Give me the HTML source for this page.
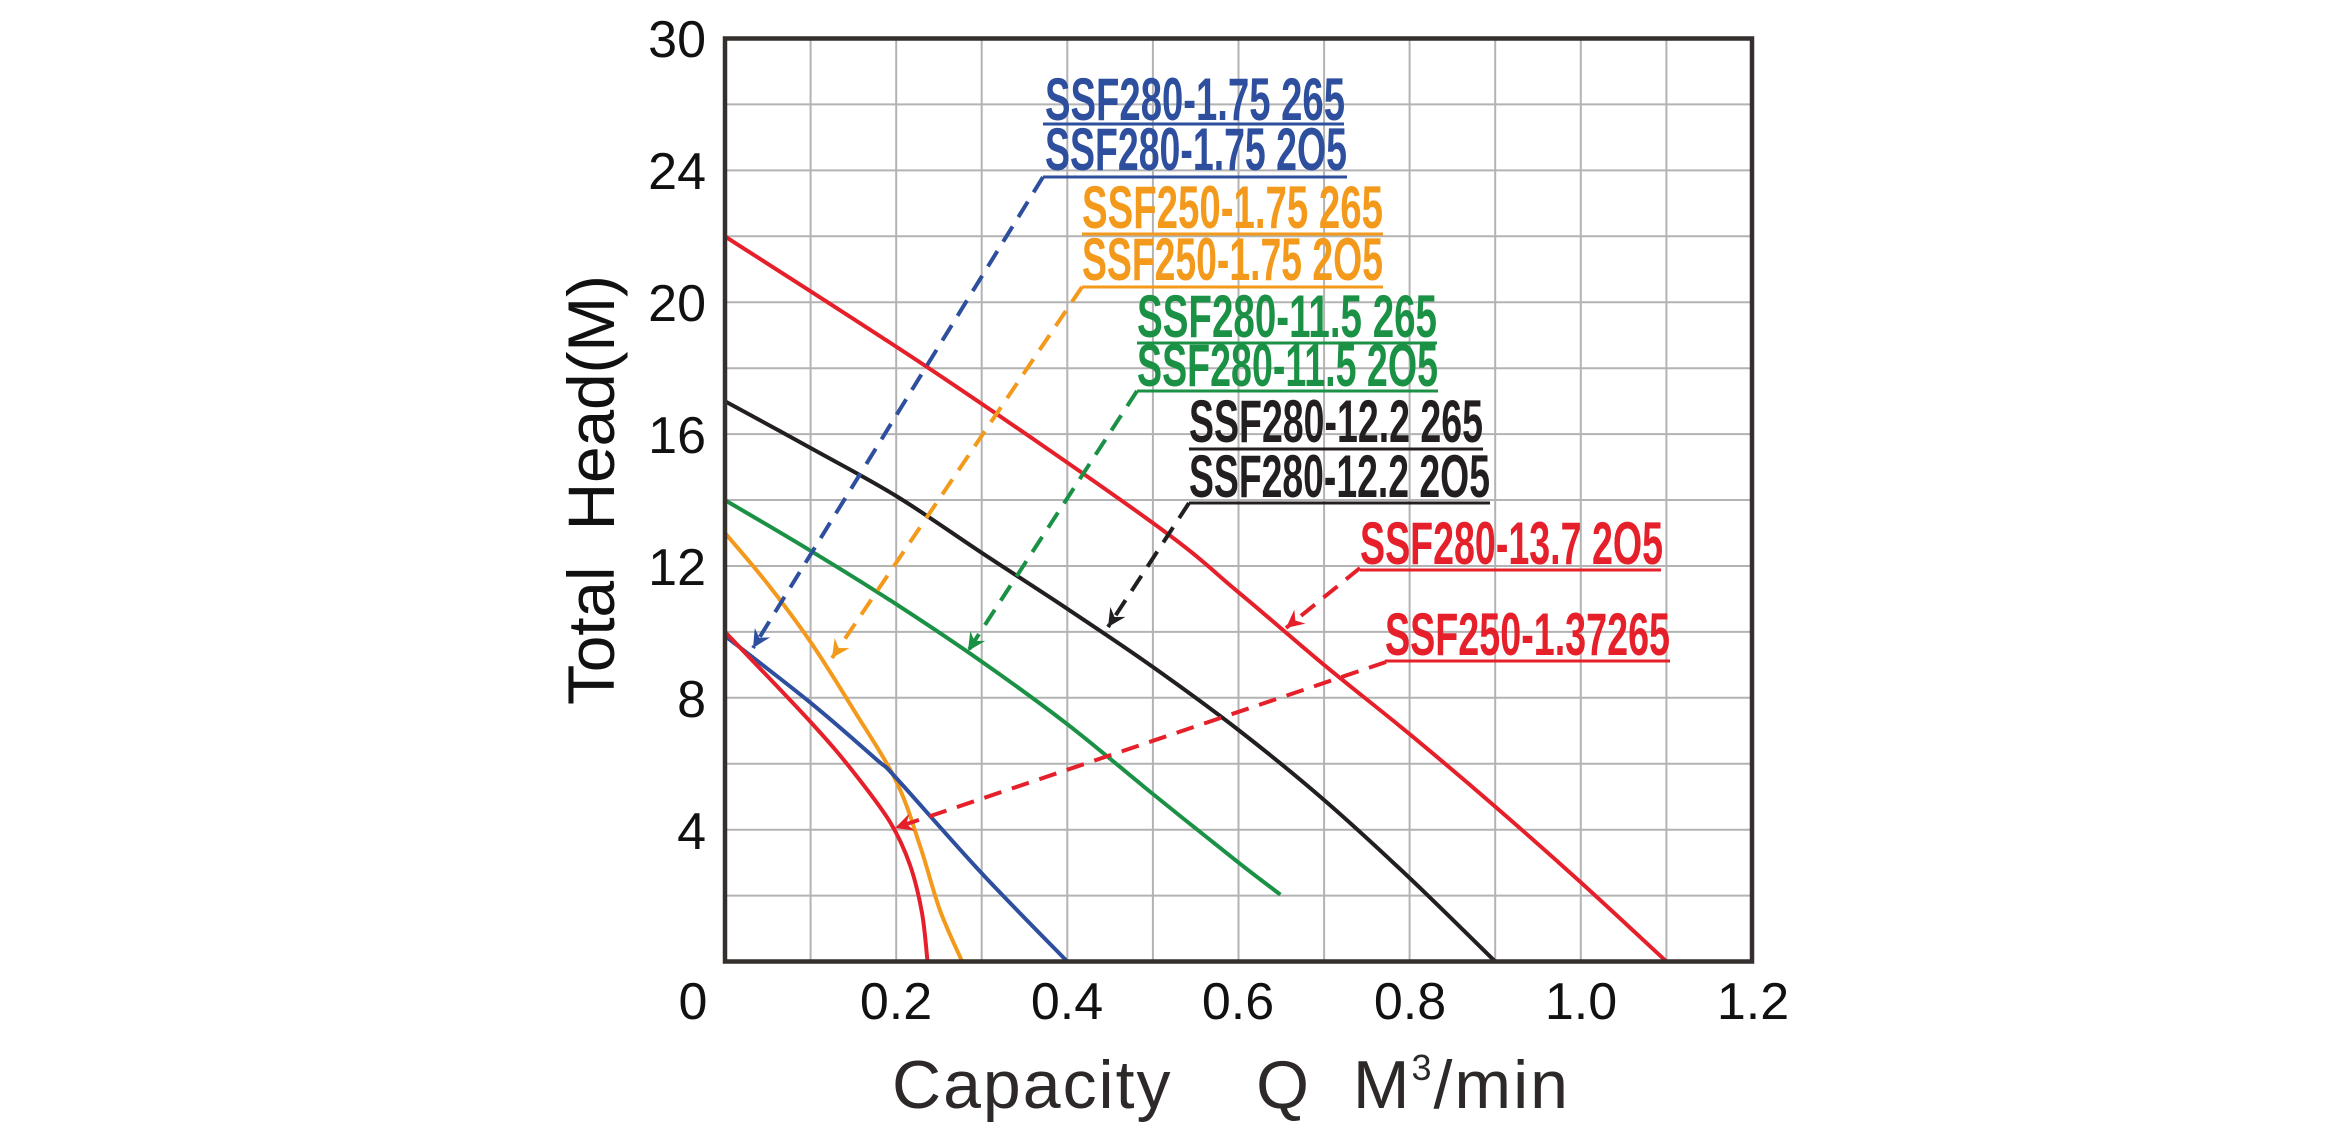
<!DOCTYPE html>
<html><head><meta charset="utf-8"><style>
html,body{margin:0;padding:0;background:#fff;}
svg{display:block;}
.lbl{font-family:"Liberation Sans Narrow","Liberation Sans",sans-serif;font-weight:bold;font-size:60px;}
.tk{font-family:"Liberation Sans",sans-serif;font-size:52px;fill:#111;}
</style></head><body>
<svg id="s" width="2343" height="1145" viewBox="0 0 2343 1145" xmlns="http://www.w3.org/2000/svg">
<defs>
<marker id="mb" markerUnits="userSpaceOnUse" markerWidth="22" markerHeight="22" refX="18" refY="9" orient="auto"><path d="M0,0 L18,9 L0,18 L6,9 Z" fill="#2e4f9e"/></marker>
<marker id="mo" markerUnits="userSpaceOnUse" markerWidth="22" markerHeight="22" refX="18" refY="9" orient="auto"><path d="M0,0 L18,9 L0,18 L6,9 Z" fill="#f39a1d"/></marker>
<marker id="mg" markerUnits="userSpaceOnUse" markerWidth="22" markerHeight="22" refX="18" refY="9" orient="auto"><path d="M0,0 L18,9 L0,18 L6,9 Z" fill="#1b9146"/></marker>
<marker id="mk" markerUnits="userSpaceOnUse" markerWidth="22" markerHeight="22" refX="18" refY="9" orient="auto"><path d="M0,0 L18,9 L0,18 L6,9 Z" fill="#231f20"/></marker>
<marker id="mr" markerUnits="userSpaceOnUse" markerWidth="22" markerHeight="22" refX="18" refY="9" orient="auto"><path d="M0,0 L18,9 L0,18 L6,9 Z" fill="#e6202a"/></marker>
</defs>
<g stroke="#b3b3b3" stroke-width="2">
<line x1="810.6" y1="38.5" x2="810.6" y2="961.5"/><line x1="896.2" y1="38.5" x2="896.2" y2="961.5"/><line x1="981.7" y1="38.5" x2="981.7" y2="961.5"/><line x1="1067.3" y1="38.5" x2="1067.3" y2="961.5"/><line x1="1152.9" y1="38.5" x2="1152.9" y2="961.5"/><line x1="1238.5" y1="38.5" x2="1238.5" y2="961.5"/><line x1="1324.1" y1="38.5" x2="1324.1" y2="961.5"/><line x1="1409.6" y1="38.5" x2="1409.6" y2="961.5"/><line x1="1495.2" y1="38.5" x2="1495.2" y2="961.5"/><line x1="1580.8" y1="38.5" x2="1580.8" y2="961.5"/><line x1="1666.4" y1="38.5" x2="1666.4" y2="961.5"/>
<line x1="725" y1="104.4" x2="1752" y2="104.4"/><line x1="725" y1="170.4" x2="1752" y2="170.4"/><line x1="725" y1="236.3" x2="1752" y2="236.3"/><line x1="725" y1="302.2" x2="1752" y2="302.2"/><line x1="725" y1="368.2" x2="1752" y2="368.2"/><line x1="725" y1="434.1" x2="1752" y2="434.1"/><line x1="725" y1="500" x2="1752" y2="500"/><line x1="725" y1="566" x2="1752" y2="566"/><line x1="725" y1="631.9" x2="1752" y2="631.9"/><line x1="725" y1="697.8" x2="1752" y2="697.8"/><line x1="725" y1="763.7" x2="1752" y2="763.7"/><line x1="725" y1="829.7" x2="1752" y2="829.7"/><line x1="725" y1="895.6" x2="1752" y2="895.6"/>
</g>
<g fill="none" stroke-width="4" stroke-linejoin="round">
<path class="cr" stroke="#e6202a" data-p="725,236.4 939,375 1152.9,523 1238.5,592.3 1324.1,664.9 1409.6,734.1 1495.2,806.6 1580.8,882.4 1666.4,961.5"/>
<path class="cr" stroke="#231f20" data-p="725,401.2 810.6,448 896.2,496 981.7,552.8 1067.3,608.8 1152.9,667 1238.5,730 1324.1,800 1409.6,878 1495.2,961.5"/>
<path class="cr" stroke="#1b9146" data-p="725,500.1 810.6,550.8 896.2,604.2 981.7,661.6 1067.3,724.2 1152.9,794 1238.5,862.6 1280.4,894.6"/>
<path class="cr" stroke="#f39a1d" data-p="725,533 767.8,584.1 810.6,642 853.4,709.4 896.2,781.2 920.1,846.1 939.8,909.8 962.1,961.5"/>
<path class="cr" stroke="#2e4f9e" data-p="725,635.9 810.6,702.8 876.5,759.5 896.2,778 981.7,873.2 1067.3,961.5"/>
<path class="cr" stroke="#e6202a" data-p="725,631.9 810.6,722 853.4,772 890,822 910,865 922,913 927.5,961.5"/>
</g>
<g fill="none" stroke-width="4" stroke-dasharray="18 11">
<line x1="1043" y1="177" x2="753" y2="648" stroke="#2e4f9e" marker-end="url(#mb)"/>
<line x1="1082" y1="287" x2="832" y2="658" stroke="#f39a1d" marker-end="url(#mo)"/>
<line x1="1137" y1="391" x2="968" y2="651" stroke="#1b9146" marker-end="url(#mg)"/>
<line x1="1189" y1="503" x2="1108" y2="627" stroke="#231f20" marker-end="url(#mk)"/>
<line x1="1360" y1="568" x2="1286" y2="628" stroke="#e6202a" marker-end="url(#mr)"/>
<line x1="1386" y1="662" x2="895" y2="828" stroke="#e6202a" marker-end="url(#mr)"/>
</g>
<rect x="725" y="38.5" width="1027" height="923" fill="none" stroke="#352f2e" stroke-width="4.5"/>
<g class="lbl">
<text x="1045" y="120" fill="#2e4f9e" textLength="300" lengthAdjust="spacingAndGlyphs">SSF280-1.75 265</text>
<text x="1045" y="170" fill="#2e4f9e" textLength="302" lengthAdjust="spacingAndGlyphs">SSF280-1.75 2O5</text>
<text x="1082" y="228" fill="#f39a1d" textLength="301" lengthAdjust="spacingAndGlyphs">SSF250-1.75 265</text>
<text x="1082" y="280" fill="#f39a1d" textLength="301" lengthAdjust="spacingAndGlyphs">SSF250-1.75 2O5</text>
<text x="1137" y="337" fill="#1b9146" textLength="300" lengthAdjust="spacingAndGlyphs">SSF280-11.5 265</text>
<text x="1137" y="386" fill="#1b9146" textLength="301" lengthAdjust="spacingAndGlyphs">SSF280-11.5 2O5</text>
<text x="1189" y="442" fill="#231f20" textLength="294" lengthAdjust="spacingAndGlyphs">SSF280-12.2 265</text>
<text x="1189" y="497" fill="#231f20" textLength="301" lengthAdjust="spacingAndGlyphs">SSF280-12.2 2O5</text>
<text x="1360" y="564" fill="#e6202a" textLength="303" lengthAdjust="spacingAndGlyphs">SSF280-13.7 2O5</text>
<text x="1385" y="655" fill="#e6202a" textLength="285" lengthAdjust="spacingAndGlyphs">SSF250-1.37265</text>
</g>
<g stroke-width="3">
<line x1="1043" y1="124" x2="1344" y2="124" stroke="#2e4f9e"/><line x1="1043" y1="177" x2="1347" y2="177" stroke="#2e4f9e"/>
<line x1="1082" y1="234" x2="1383" y2="234" stroke="#f39a1d"/><line x1="1082" y1="287" x2="1383" y2="287" stroke="#f39a1d"/>
<line x1="1137" y1="343" x2="1437" y2="343" stroke="#1b9146"/><line x1="1137" y1="391" x2="1438" y2="391" stroke="#1b9146"/>
<line x1="1189" y1="449" x2="1483" y2="449" stroke="#231f20"/><line x1="1189" y1="503" x2="1490" y2="503" stroke="#231f20"/>
<line x1="1360" y1="570" x2="1661" y2="570" stroke="#e6202a"/><line x1="1385" y1="661" x2="1670" y2="661" stroke="#e6202a"/>
</g>
<g class="tk" text-anchor="end">
<text x="706" y="57">30</text><text x="706" y="189">24</text><text x="706" y="321">20</text><text x="706" y="453">16</text><text x="706" y="585">12</text><text x="706" y="717">8</text><text x="706" y="849">4</text>
</g>
<g class="tk" text-anchor="middle">
<text x="693" y="1019">0</text><text x="896" y="1019">0.2</text><text x="1067" y="1019">0.4</text><text x="1238" y="1019">0.6</text><text x="1410" y="1019">0.8</text><text x="1581" y="1019">1.0</text><text x="1753" y="1019">1.2</text>
</g>
<text transform="translate(614,490) rotate(-90)" text-anchor="middle" font-family="Liberation Sans, sans-serif" font-size="66" fill="#111" textLength="430" lengthAdjust="spacing" xml:space="preserve">Total  Head(M)</text>
<text x="892" y="1108" font-family="Liberation Sans, sans-serif" font-size="68" fill="#2d2928" textLength="676" lengthAdjust="spacing" xml:space="preserve">Capacity    Q  M<tspan dy="-28" font-size="36">3</tspan><tspan dy="28">/min</tspan></text>
</svg>
<script>
document.querySelectorAll('path.cr').forEach(function(el){
 var p=el.getAttribute('data-p').trim().split(/\s+/).map(function(s){return s.split(',').map(Number);});
 var d='M'+p[0][0]+','+p[0][1];
 for(var i=0;i<p.length-1;i++){
  var p0=p[i-1]||p[i],p1=p[i],p2=p[i+1],p3=p[i+2]||p2;
  var c1x=p1[0]+(p2[0]-p0[0])/6,c1y=p1[1]+(p2[1]-p0[1])/6;
  var c2x=p2[0]-(p3[0]-p1[0])/6,c2y=p2[1]-(p3[1]-p1[1])/6;
  d+=' C'+c1x.toFixed(1)+','+c1y.toFixed(1)+' '+c2x.toFixed(1)+','+c2y.toFixed(1)+' '+p2[0]+','+p2[1];
 }
 el.setAttribute('d',d);
});
</script>
</body></html>
